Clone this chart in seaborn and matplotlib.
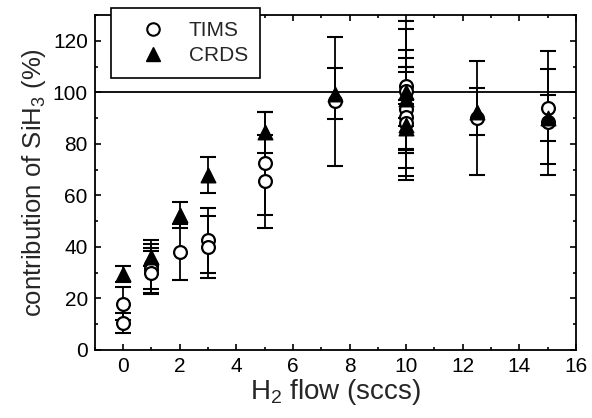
import pandas as pd
import matplotlib
matplotlib.use("Agg")
import matplotlib.pyplot as plt
from matplotlib.lines import Line2D
from matplotlib.ticker import MultipleLocator
import seaborn as sns

# values
tims_flow = [0, 0, 1, 1, 1, 2, 3, 3, 5, 5, 7.5, 10, 10, 10, 10, 10, 12.5, 15, 15]
tims_contrib = [18, 10.5, 33, 31.5, 30, 38, 42.5, 40, 72.5, 65.5, 96.5,
                102.5, 100.5, 93.5, 90.5, 88, 90, 94, 88.5]
tims_err = [6.5, 4, 9.5, 9.5, 8.5, 11, 12.5, 12, 20, 18, 25,
            25, 24, 23, 23, 22, 22, 22, 20.5]

crds_flow = [0, 1, 2, 3, 5, 7.5, 10, 10, 10, 10, 12.5, 15]
crds_contrib = [29.5, 36, 52.5, 68, 84.5, 99.5, 100, 97.5, 87.5, 86, 92.5, 90]
crds_err = [3, 3.5, 5, 7, 8, 10, 10, 10.5, 9.5, 9.5, 9, 9]

df = pd.DataFrame({
    "flow": tims_flow + crds_flow,
    "contrib": tims_contrib + crds_contrib,
    "err": tims_err + crds_err,
    "method": ["TIMS"] * len(tims_flow) + ["CRDS"] * len(crds_flow),
})

sns.set_style("ticks")
plt.rcParams["font.family"] = ["Liberation Sans", "DejaVu Sans"]
plt.rcParams["mathtext.default"] = "regular"

fig = plt.figure(figsize=(5.92, 4.18), dpi=100)
ax = fig.add_axes([0.16, 0.163, 0.813, 0.801])

ax.axhline(100, color="black", lw=1.3, zorder=1)

# error bars
ax.errorbar(df["flow"], df["contrib"], yerr=df["err"], fmt="none",
            ecolor="black", elinewidth=1.3, capsize=5.5, capthick=1.5, zorder=2)

tims = df[df["method"] == "TIMS"]
crds = df[df["method"] == "CRDS"]
sns.scatterplot(data=tims, x="flow", y="contrib", marker="o", s=85,
                facecolor="white", edgecolor="black", linewidth=1.6,
                ax=ax, zorder=3, legend=False)
sns.scatterplot(data=crds, x="flow", y="contrib", marker="^", s=110,
                color="black", edgecolor="black", linewidth=1,
                ax=ax, zorder=4, legend=False)

ax.set_xlim(-1, 16)
ax.set_ylim(0, 130)
ax.xaxis.set_major_locator(MultipleLocator(2))
ax.xaxis.set_minor_locator(MultipleLocator(1))
ax.yaxis.set_major_locator(MultipleLocator(20))
ax.yaxis.set_minor_locator(MultipleLocator(10))
ax.tick_params(which="both", direction="in", top=True, right=True,
               width=1.2, colors="black")
ax.tick_params(which="major", length=4.5, labelsize=15, pad=5)
ax.tick_params(which="minor", length=2.5)
for sp in ax.spines.values():
    sp.set_linewidth(1.3)
    sp.set_color("black")

ax.set_xlabel("H$_2$ flow (sccs)", fontsize=20, labelpad=1)
ax.set_ylabel("contribution of SiH$_3$ (%)", fontsize=18.5, labelpad=3)

handles = [
    Line2D([], [], marker="o", ls="none", mfc="white", mec="black", mew=1.5, ms=9),
    Line2D([], [], marker="^", ls="none", mfc="black", mec="black", ms=10.5),
]
leg = ax.legend(handles, ["TIMS", "CRDS"], loc="upper left",
                bbox_to_anchor=(0.033, 1.02), borderaxespad=0,
                fancybox=False, framealpha=1, edgecolor="black",
                fontsize=15, handletextpad=0.25, borderpad=0.6,
                labelspacing=0.3, handlelength=2.9)
leg.get_frame().set_linewidth(1.2)
leg.set_zorder(10)

fig.savefig("out.png", dpi=100)
